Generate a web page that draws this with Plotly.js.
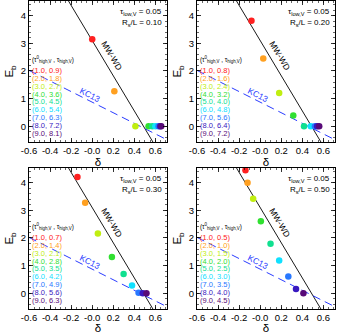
<!DOCTYPE html>
<html><head><meta charset="utf-8">
<script src="https://cdn.plot.ly/plotly-3.0.1.min.js"></script>
<style>html,body{margin:0;padding:0;background:#fff}#c{width:337px;height:334px}</style>
</head><body><div id="c"></div>
<script>
// ---- data ----
const tauHigh0 = [1.0, 2.0, 3.0, 4.0, 5.0, 6.0, 7.0, 8.0, 9.0];
const rsL = [0.10, 0.20, 0.30, 0.50];
const tauHighP1 = [0.9, 1.8, 2.7, 3.6, 4.5, 5.4, 6.3, 7.2, 8.1];
const tauHighP2 = [0.8, 1.6, 2.4, 3.2, 4.0, 4.8, 5.6, 6.4, 7.2];
const tauHighP3 = [0.7, 1.4, 2.1, 2.8, 3.5, 4.2, 4.9, 5.6, 6.3];
const tauHighP4 = [0.5, 1.0, 1.5, 2.0, 2.5, 3.0, 3.5, 4.0, 4.5];
const deltaP1 = [0.00, 0.21, 0.41, 0.535, 0.57, 0.60, 0.63, 0.645, 0.655];
const ebP1    = [3.15, 1.27, 0.00, 0.00, 0.00, 0.00, 0.00, 0.00, 0.00];
const deltaP2 = [-0.083, 0.029, 0.18, 0.314, 0.416, 0.48, 0.52, 0.54, 0.56];
const ebP2    = [3.82, 2.45, 1.20, 0.39, 0.00, 0.00, 0.00, 0.00, 0.00];
const deltaP3 = [-0.14, -0.067, 0.054, 0.187, 0.298, 0.378, 0.44, 0.48, 0.515];
const ebP3    = [4.20, 3.27, 2.16, 1.31, 0.70, 0.28, 0.02, 0.00, 0.00];
const deltaP4 = [-0.14, -0.12, -0.067, 0.006, 0.098, 0.18, 0.267, 0.34, 0.41];
const ebP4    = [4.45, 4.00, 3.42, 2.60, 1.79, 1.18, 0.61, 0.15, 0.00];
const mwwdDelta = [-0.25, 0.60];
const mwwdEb = [4.69, -0.72];
const kc13Delta = [-0.60, 0.70];
const kc13Eb = [2.02, -0.47];
const tauLowV = 0.05;
const xTickVals = [-0.6, -0.4, -0.2, 0.0, 0.2, 0.4, 0.6];
const xTickText = ["-0.6", "-0.4", "-0.2", "-0.0", "0.2", "0.4", "0.6"];
const yTickVals = [0, 1, 2, 3, 4];
const colors = ["#ff2020", "#ffa020", "#c0ee10", "#30e030", "#10e090", "#10e0ff", "#2878ff", "#3818c0", "#580a78"];

const panels = [
  {d: deltaP1, e: ebP1, th: tauHighP1},
  {d: deltaP2, e: ebP2, th: tauHighP2},
  {d: deltaP3, e: ebP3, th: tauHighP3},
  {d: deltaP4, e: ebP4, th: tauHighP4}
];

const W = 337, H = 334;
const xDom = [[29/W, 167/W], [197/W, 335/W]];
const yDom = [[1 - 142/H, 1 - 1/H], [1 - 309/H, 1 - 168/H]];
const FONT = "Liberation Sans, Arial, sans-serif";

const data = [];
const layout = {
  width: W, height: H,
  margin: {l: 0, r: 0, t: 0, b: 0},
  paper_bgcolor: "#fff", plot_bgcolor: "#fff",
  showlegend: false,
  font: {family: FONT, color: "#000"},
  annotations: []
};

panels.forEach((p, i) => {
  const n = i + 1;
  const xa = "x" + (n === 1 ? "" : n), ya = "y" + (n === 1 ? "" : n);
  const col = i % 2, row = Math.floor(i / 2);
  data.push({x: mwwdDelta, y: mwwdEb, xaxis: xa, yaxis: ya, mode: "lines",
    line: {color: "#000", width: 0.9}, hoverinfo: "skip"});
  data.push({x: kc13Delta, y: kc13Eb, xaxis: xa, yaxis: ya, mode: "lines",
    line: {color: "#2a3cff", width: 1, dash: "8px,5px"}, hoverinfo: "skip"});
  data.push({x: p.d, y: p.e, xaxis: xa, yaxis: ya, mode: "markers",
    marker: {color: colors, size: 6.5, line: {width: 0}}, cliponaxis: true});
  const axBase = {
    showline: true, linecolor: "#000", linewidth: 1, mirror: "allticks",
    ticks: "inside", ticklen: 4, tickwidth: 0.8, tickcolor: "#000",
    showgrid: false, zeroline: false, automargin: false,
    tickfont: {family: FONT, size: 9.5, color: "#000"}
  };
  const xKey = "xaxis" + (n === 1 ? "" : n), yKey = "yaxis" + (n === 1 ? "" : n);
  layout[xKey] = Object.assign({}, axBase, {
    domain: xDom[col], anchor: ya, range: [-0.6, 0.71],
    tickmode: "array", tickvals: xTickVals, ticktext: xTickText,
    minor: {dtick: 0.05, ticks: "inside", ticklen: 2, tickwidth: 0.6, tickcolor: "#000", showgrid: false},
    title: {text: "δ", font: {family: FONT, size: 11.5, color: "#000"}, standoff: 2}
  });
  layout[yKey] = Object.assign({}, axBase, {
    domain: yDom[row], anchor: xa, range: [-0.57, 4.53],
    tickmode: "array", tickvals: yTickVals,
    minor: {dtick: 0.2, ticks: "inside", ticklen: 2, tickwidth: 0.6, tickcolor: "#000", showgrid: false},
    title: {text: "E<sub>b</sub>", font: {family: FONT, size: 11.5, color: "#000"}, standoff: 4}
  });
  const xr = xa + " domain", yr = ya + " domain";
  layout.annotations.push({xref: xr, yref: yr, x: 0.975, y: 0.925, xanchor: "right", yanchor: "middle",
    text: "τ<sub>low,V</sub> = " + tauLowV.toFixed(2), showarrow: false, font: {size: 8, color: "#000"}});
  layout.annotations.push({xref: xr, yref: yr, x: 0.975, y: 0.845, xanchor: "right", yanchor: "middle",
    text: "R<sub>s</sub>/L = " + rsL[i].toFixed(2), showarrow: false, font: {size: 8, color: "#000"}});
  layout.annotations.push({xref: xr, yref: yr, x: 0.01, y: 0.585, xanchor: "left", yanchor: "middle",
    text: "(τ<sup>0</sup><sub>high,V</sub> , τ<sub>high,V</sub>)", showarrow: false, font: {size: 6.3, color: "#000"}});
  tauHigh0.forEach((t, k) => {
    layout.annotations.push({xref: xr, yref: yr, x: 0.01, y: 0.508 - k * 0.056, xanchor: "left", yanchor: "middle",
      text: "(" + t.toFixed(1) + ", " + p.th[k].toFixed(1) + ")", showarrow: false,
      font: {size: 7.5, color: colors[k]}});
  });
  layout.annotations.push({xref: xa, yref: ya, x: 0.19, y: 2.55, text: "MW-WD", textangle: 59,
    showarrow: false, font: {size: 8.5, color: "#000"}});
  layout.annotations.push({xref: xa, yref: ya, x: -0.02, y: 1.12, text: "KC13", textangle: 27,
    showarrow: false, font: {size: 8.5, color: "#2a3cff"}});
});

Plotly.newPlot("c", data, layout, {staticPlot: true});
</script></body></html>
